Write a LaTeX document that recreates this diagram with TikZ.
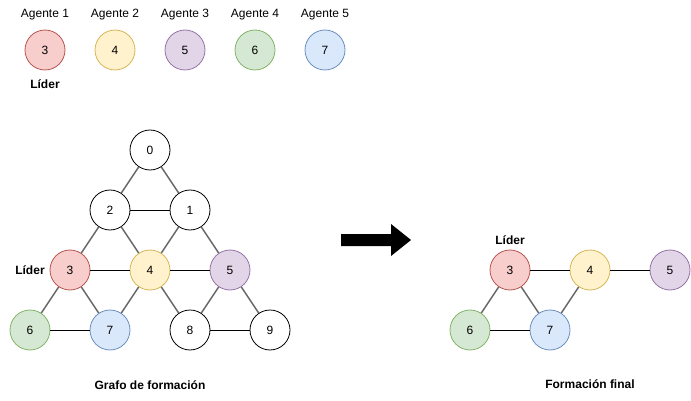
\documentclass[tikz,border=0pt]{standalone}
\usepackage{fontspec}
\setmainfont{Liberation Sans}
\definecolor{rojoF}{HTML}{F8CECC}\definecolor{rojoB}{HTML}{B85450}
\definecolor{amaF}{HTML}{FFF2CC}\definecolor{amaB}{HTML}{D6B656}
\definecolor{morF}{HTML}{E1D5E7}\definecolor{morB}{HTML}{9673A6}
\definecolor{verF}{HTML}{D5E8D4}\definecolor{verB}{HTML}{82B366}
\definecolor{azuF}{HTML}{DAE8FC}\definecolor{azuB}{HTML}{6C8EBF}
\tikzset{
 nodo/.style={circle,draw,fill=white,minimum size=40pt,inner sep=0pt,line width=0.8pt,font=\fontsize{12}{14}\selectfont},
 rojo/.style={nodo,fill=rojoF,draw=rojoB},
 ama/.style={nodo,fill=amaF,draw=amaB},
 mor/.style={nodo,fill=morF,draw=morB},
 ver/.style={nodo,fill=verF,draw=verB},
 azu/.style={nodo,fill=azuF,draw=azuB},
 diag/.style={draw=black!60,line width=1.4pt},
 horiz/.style={draw=black,line width=0.9pt},
 txt/.style={font=\fontsize{12}{14}\selectfont},
 lider/.style={font=\fontsize{12}{14}\selectfont\bfseries}
}
\begin{document}
\begin{tikzpicture}[x=1pt,y=-1pt]
\useasboundingbox (0,0) rectangle (691,401);
%agentes
\foreach \i/\n/\s [count=\k] in {45/3/rojo,115/4/ama,185/5/mor,255/6/ver,325/7/azu}{
 \node[txt] (ag\k) at (\i,15) {Agente \k};
 \node[\s] (a\n) at (\i,50) {\n};
}
\node[lider] (lid1) at (45,84) {Líder};
%grafo de formacion
\node[nodo] (g0) at (150,150) {0};
\node[nodo] (g2) at (110,210) {2};
\node[nodo] (g1) at (190,210) {1};
\node[rojo] (g3) at (70,270) {3};
\node[ama] (g4) at (150,270) {4};
\node[mor] (g5) at (230,270) {5};
\node[ver] (g6) at (30,330) {6};
\node[azu] (g7) at (110,330) {7};
\node[nodo] (g8) at (190,330) {8};
\node[nodo] (g9) at (270,330) {9};
\node[lider] (lid2) at (30,270) {Líder};
\foreach \a/\b in {0/2,0/1,2/3,2/4,1/4,1/5,3/6,3/7,4/7,4/8,5/8,5/9}
 \draw[diag] (g\a) -- (g\b);
\foreach \a/\b in {2/1,3/4,4/5,6/7,8/9}
 \draw[horiz] (g\a) -- (g\b);
\node[lider] (tg) at (150,385) {Grafo de formación};
%flecha
\fill (341,234) -- (391,234) -- (391,224) -- (411,240) -- (391,256) -- (391,246) -- (341,246) -- cycle;
%formacion final
\node[rojo] (f3) at (510,270) {3};
\node[ama] (f4) at (590,270) {4};
\node[mor] (f5) at (670,270) {5};
\node[ver] (f6) at (470,330) {6};
\node[azu] (f7) at (550,330) {7};
\node[lider] (lid3) at (510,240) {Líder};
\foreach \a/\b in {3/6,3/7,4/7}
 \draw[diag] (f\a) -- (f\b);
\foreach \a/\b in {3/4,4/5,6/7}
 \draw[horiz] (f\a) -- (f\b);
\node[lider] (tf) at (590,384) {Formación final};
\end{tikzpicture}
\end{document}
